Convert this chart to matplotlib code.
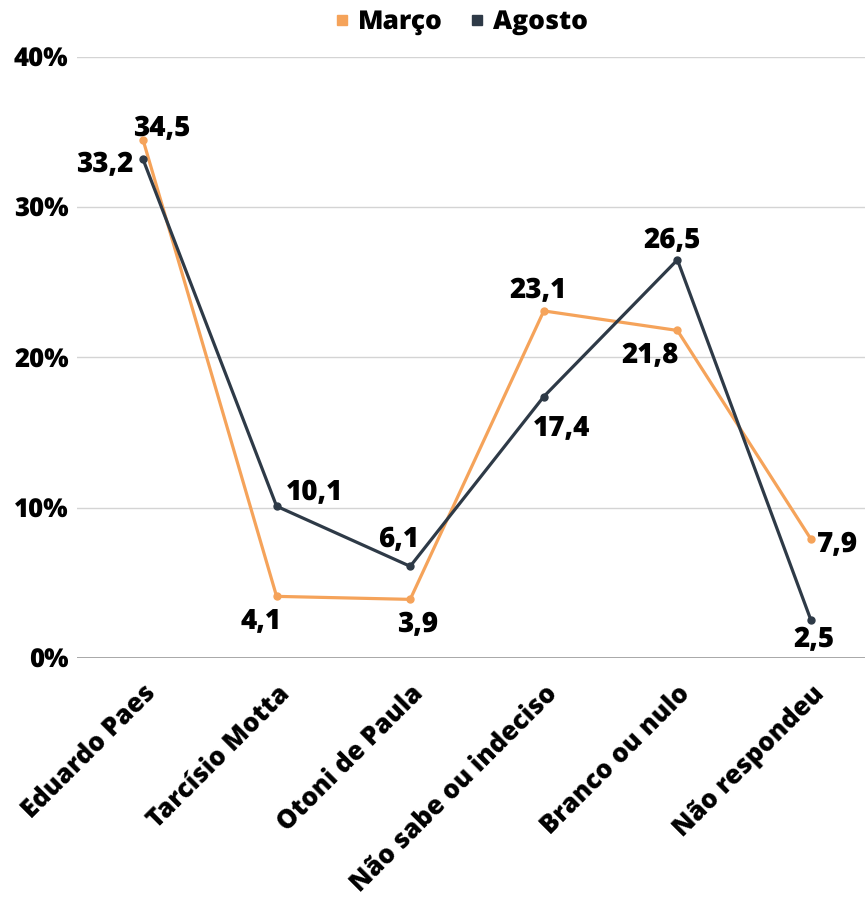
import numpy as np
from matplotlib import pyplot as plt
from matplotlib.lines import Line2D

plt.rcParams['font.family'] = ['Open Sans', 'DejaVu Sans']
plt.rcParams['font.weight'] = 800
plt.rcParams['text.hinting'] = 'no_hinting'

categories = ['Eduardo Paes', 'Tarcísio Motta', 'Otoni de Paula',
              'Não sabe ou indeciso', 'Branco ou nulo', 'Não respondeu']
marco = [34.5, 4.1, 3.9, 23.1, 21.8, 7.9]
agosto = [33.2, 10.1, 6.1, 17.4, 26.5, 2.5]
y_ticks = [0, 10, 20, 30, 40]

orange = '#F5A35A'
dark = '#2E3A47'

# label offsets in pixels (dx, dy) from the point, text centred on baseline
marco_off = [(19, 4), (-16, -33), (7, -33), (-6, 13), (-27, -33), (26, -13)]
agosto_off = [(-38, -13), (38, 6), (-12, 19), (18, -40), (-5, 12), (3, -27)]

fig = plt.figure(figsize=(8.65, 8.98), dpi=100)
ax = fig.add_axes([0.089, 0.2673, 0.911, 0.6692])

x = np.arange(len(categories))
ax.plot(x, marco, color=orange, lw=2.3, marker='o', ms=5, zorder=3)
ax.plot(x, agosto, color=dark, lw=2.3, marker='o', ms=5, zorder=4)

for vals, offs in ((marco, marco_off), (agosto, agosto_off)):
    for xi, v, (dx, dy) in zip(x, vals, offs):
        ax.annotate(f'{v:.1f}'.replace('.', ','), (xi, v), xytext=(dx, dy),
                    textcoords='offset pixels', ha='center', va='baseline',
                    fontsize=20, fontweight=800, color='black', zorder=5)

ax.set_ylim(0, 40)
ax.set_xlim(-0.494, 5.404)
ax.set_yticks(y_ticks)
ax.set_yticklabels([f'{t}%' for t in y_ticks], fontsize=18.5, fontweight=800)
ax.set_xticks(x)
ax.set_xticklabels(categories, rotation=45, ha='right', rotation_mode='anchor',
                   fontsize=18.5, fontweight=800)
ax.tick_params(axis='y', length=0, pad=6)
ax.tick_params(axis='x', length=0, pad=16.5)
for t in y_ticks[1:]:
    ax.axhline(t, color='#d4d4d4', lw=1, zorder=0)
ax.axhline(0, color='#9a9a9a', lw=1.2, zorder=1)
for s in ax.spines.values():
    s.set_visible(False)

handles = [Line2D([], [], ls='none', marker='s', ms=7, color=orange),
           Line2D([], [], ls='none', marker='s', ms=7, color=dark)]
fig.legend(handles, ['Março', 'Agosto'], loc='center', bbox_to_anchor=(0.531, 0.9755),
           ncol=2, frameon=False, handlelength=0.8, handletextpad=0.2,
           columnspacing=0.9, prop={'weight': 800, 'size': 19})

fig.savefig('out.png', dpi=100)
